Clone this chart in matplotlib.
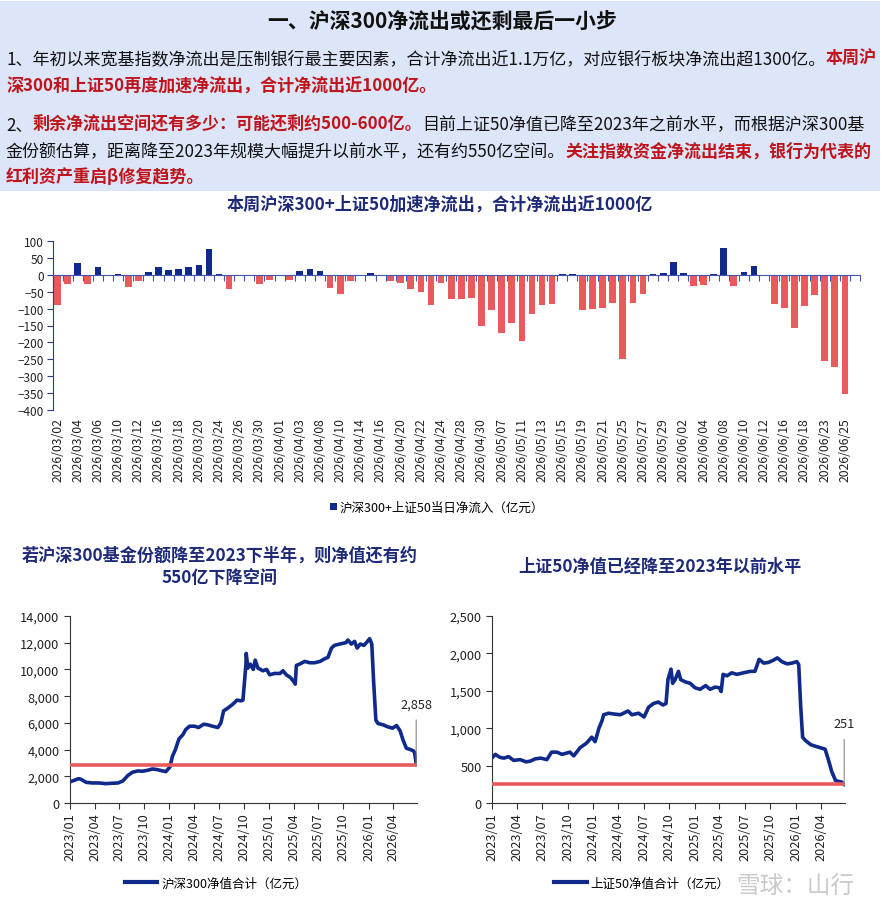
import numpy as np
import pandas as pd
import matplotlib
matplotlib.use("Agg")
import matplotlib.pyplot as plt
import matplotlib.dates as mdates
from matplotlib.patches import Rectangle, Patch
from matplotlib.lines import Line2D
from matplotlib.ticker import FuncFormatter

plt.rcParams['font.family'] = ['Noto Sans CJK SC', 'DejaVu Sans']

# ---- data ----
# daily net flow of 沪深300+上证50 ETFs (亿元), 2026/03/02 - 2026/06/25
flow_mar = ["03/02", "03/03", "03/04", "03/05", "03/06", "03/09", "03/10", "03/11", "03/12", "03/13",
            "03/16", "03/17", "03/18", "03/19", "03/20", "03/23", "03/24", "03/25", "03/26", "03/27",
            "03/30", "03/31"]
flow_apr = ["04/01", "04/02", "04/03", "04/07", "04/08", "04/09", "04/10", "04/13", "04/14", "04/15",
            "04/16", "04/17", "04/20", "04/21", "04/22", "04/23", "04/24", "04/27", "04/28", "04/29",
            "04/30"]
flow_may = ["05/06", "05/07", "05/08", "05/11", "05/12", "05/13", "05/14", "05/15", "05/18", "05/19",
            "05/20", "05/21", "05/22", "05/25", "05/26", "05/27", "05/28", "05/29"]
flow_jun = ["06/01", "06/02", "06/03", "06/04", "06/05", "06/08", "06/09", "06/10", "06/11", "06/12",
            "06/15", "06/16", "06/17", "06/18", "06/22", "06/23", "06/24", "06/25"]
flow_dates = ["2026/" + d for d in flow_mar + flow_apr + flow_may + flow_jun]
flow_vals = [-88, -28, 34, -28, 22, -5, 3, -37, -19, 7,
             22, 13, 16, 22, 28, 75, 3, -43, -4, -1,
             -26, -16, -2, -16, 12, 16, 12, -40, -58, -19,
             -3, 6, 0, -19, -25, -43, -52, -88, -25, -73,
             -73, -70, -150, -103, -172, -142, -196, -115, -88, -85,
             2, 2, -103, -100, -97, -82, -248, -82, -58, 2,
             6, 39, 6, -32, -29, 3, 78, -32, 9, 25,
             -1, -85, -97, -157, -91, -61, -256, -274, -352]

# 沪深300 net value total (亿元)
hs300_dates = ["2023-01-03", "2023-01-17", "2023-02-01", "2023-02-10", "2023-03-01", "2023-03-24", "2023-04-18", "2023-05-12", "2023-06-06", "2023-06-26",
               "2023-07-14", "2023-08-01", "2023-08-18", "2023-09-07", "2023-09-25", "2023-10-13", "2023-10-31", "2023-11-17", "2023-12-07", "2023-12-19",
               "2024-01-03", "2024-01-12", "2024-01-23", "2024-02-05", "2024-02-19", "2024-03-01", "2024-03-15", "2024-04-02", "2024-04-17", "2024-05-06",
               "2024-05-21", "2024-06-07", "2024-06-27", "2024-07-08", "2024-07-18", "2024-08-02", "2024-08-21", "2024-09-05", "2024-09-20", "2024-09-27",
               "2024-10-08", "2024-10-09", "2024-10-15", "2024-10-24", "2024-11-04", "2024-11-11", "2024-11-21", "2024-12-09", "2024-12-23", "2025-01-03",
               "2025-01-21", "2025-02-10", "2025-02-21", "2025-03-05", "2025-03-20", "2025-04-01", "2025-04-07", "2025-04-11", "2025-04-23", "2025-05-12",
               "2025-05-30", "2025-06-17", "2025-07-07", "2025-07-24", "2025-08-05", "2025-08-18", "2025-08-29", "2025-09-17", "2025-10-10", "2025-10-17",
               "2025-10-30", "2025-11-11", "2025-11-20", "2025-12-02", "2025-12-15", "2025-12-24", "2026-01-05", "2026-01-13", "2026-01-20", "2026-01-28",
               "2026-02-05", "2026-02-24", "2026-03-13", "2026-03-30", "2026-04-14", "2026-04-27", "2026-05-08", "2026-05-20", "2026-06-04", "2026-06-15",
               "2026-06-19", "2026-06-25"]
hs300_vals = [1600, 1700, 1820, 1780, 1550, 1500, 1500, 1450, 1480, 1500,
              1650, 2050, 2300, 2400, 2380, 2450, 2550, 2500, 2400, 2350,
              2700, 3500, 4000, 4800, 5100, 5500, 5750, 5750, 5650, 5900,
              5850, 5750, 5650, 6000, 6900, 7100, 7400, 7700, 7650, 7700,
              10400, 11200, 10100, 10400, 10000, 10700, 10100, 9900, 10000, 9600,
              9700, 9700, 9900, 9600, 9400, 9100, 8900, 10300, 10400, 10600,
              10500, 10500, 10600, 10800, 10900, 11600, 11800, 11900, 12000, 12200,
              11900, 12100, 11600, 11900, 11800, 12000, 12300, 11900, 9000, 6200,
              5950, 5850, 5700, 5600, 5800, 5400, 4700, 4100, 4000, 3900,
              3800, 2950]
hs300_floor = 2858

# 上证50 net value total (亿元)
sz50_dates = ["2023-01-03", "2023-01-13", "2023-01-30", "2023-02-13", "2023-03-02", "2023-03-20", "2023-04-13", "2023-05-04", "2023-05-19", "2023-06-06",
              "2023-06-26", "2023-07-18", "2023-08-04", "2023-08-23", "2023-09-11", "2023-10-09", "2023-10-23", "2023-11-15", "2023-12-08", "2023-12-27",
              "2024-01-08", "2024-01-22", "2024-02-02", "2024-02-08", "2024-02-26", "2024-03-15", "2024-04-08", "2024-05-06", "2024-05-20", "2024-06-13",
              "2024-07-03", "2024-07-19", "2024-08-06", "2024-08-23", "2024-09-09", "2024-09-20", "2024-09-27", "2024-10-08", "2024-10-14", "2024-10-23",
              "2024-11-04", "2024-11-12", "2024-11-28", "2024-12-16", "2025-01-03", "2025-01-21", "2025-02-10", "2025-02-26", "2025-03-17", "2025-04-01",
              "2025-04-07", "2025-04-14", "2025-04-28", "2025-05-15", "2025-06-03", "2025-06-26", "2025-07-21", "2025-08-07", "2025-08-22", "2025-09-08",
              "2025-09-25", "2025-10-13", "2025-10-27", "2025-11-12", "2025-12-01", "2025-12-18", "2026-01-05", "2026-01-12", "2026-01-19", "2026-01-26",
              "2026-02-04", "2026-02-24", "2026-03-12", "2026-03-30", "2026-04-17", "2026-04-29", "2026-05-11", "2026-05-25", "2026-06-04", "2026-06-16",
              "2026-06-25"]
sz50_vals = [610, 650, 610, 600, 620, 570, 580, 550, 560, 590,
             600, 580, 680, 680, 650, 680, 630, 740, 800, 880,
             820, 1000, 1100, 1180, 1200, 1190, 1180, 1230, 1180, 1200,
             1150, 1280, 1330, 1350, 1310, 1330, 1650, 1790, 1600, 1650,
             1760, 1650, 1620, 1600, 1540, 1520, 1570, 1520, 1550, 1540,
             1490, 1720, 1700, 1740, 1720, 1740, 1760, 1760, 1920, 1870,
             1880, 1910, 1940, 1890, 1860, 1870, 1890, 1850, 1300, 880,
             840, 780, 760, 740, 720, 580, 420, 300, 290, 280,
             250]
sz50_floor = 251

# ---- header text ----
head_title = "一、沪深300净流出或还剩最后一小步"
head_lines = [
    [("1、年初以来宽基指数净流出是压制银行最主要因素，合计净流出近1.1万亿，对应银行板块净流出超1300亿。", False), ("本周沪", True)],
    [("深300和上证50再度加速净流出，合计净流出近1000亿。", True)],
    [("2、", False), ("剩余净流出空间还有多少：可能还剩约500-600亿。", True), ("目前上证50净值已降至2023年之前水平，而根据沪深300基", False)],
    [("金份额估算，距离降至2023年规模大幅提升以前水平，还有约550亿空间。", False), ("关注指数资金净流出结束，银行为代表的", True)],
    [("红利资产重启β修复趋势。", True)],
]
head_y = [59, 87, 125, 152, 177]

BLUE = "#0F2A8A"
RED = "#E85A5C"
TITLE_NAVY = "#1E2A78"
DARK_RED = "#C0141C"
HEADER_BG = "#DCE6F8"

W, H = 885, 912
fig = plt.figure(figsize=(W / 100, H / 100), dpi=100)
renderer = fig.canvas.get_renderer()


def fx(px):
    return px / W


def fy(py):
    return 1 - py / H


fig.patches.append(Rectangle((0, fy(192)), fx(880), fy(2) - fy(192), transform=fig.transFigure,
                             facecolor=HEADER_BG, edgecolor="none", zorder=0))

fig.text(fx(442), fy(21), head_title, fontsize=15, fontweight="bold", ha="center", va="center", color="#111111")


def draw_runs(py, runs, size, draw=True):
    x = fx(6)
    texts = []
    for s, red in runs:
        t = fig.text(x, fy(py), s, fontsize=size, ha="left", va="center",
                     color=DARK_RED if red else "#111111", fontweight="bold" if red else "normal")
        x += t.get_window_extent(renderer).width / W
        texts.append(t)
    if not draw:
        for t in texts:
            t.remove()
    return x * W - 6


# fit body font so the first line spans the box
w12 = draw_runs(0, head_lines[0], 12, draw=False)
body_size = 12 * 871 / w12
for py, runs in zip(head_y, head_lines):
    draw_runs(py, runs, body_size)

# ---- bar chart ----
fig.text(fx(440), fy(205), "本周沪深300+上证50加速净流出，合计净流出近1000亿", fontsize=12.3,
         fontweight="bold", color=TITLE_NAVY, ha="center", va="center")

ax1 = fig.add_axes([fx(52.5), fy(411), fx(860) - fx(52.5), fy(242) - fy(411)])
xs = np.arange(len(flow_vals))
cols = [BLUE if v > 0 else RED for v in flow_vals]
bars = ax1.bar(xs, flow_vals, width=0.66, color=cols, zorder=2)
ax1.set_xlim(-0.5, 79.5)
ax1.set_ylim(-400, 100)
ax1.set_yticks(np.arange(-400, 101, 50))
ax1.tick_params(axis="y", direction="out", length=4, color="#2B3A86", labelsize=8.5, labelcolor="#222222", pad=2)
ax1.spines["left"].set_color("#2B3A86")
ax1.spines["top"].set_visible(False)
ax1.spines["right"].set_visible(False)
# zero line with category ticks
ax1.spines["bottom"].set_position(("data", 0))
ax1.spines["bottom"].set_color("#4454B0")
ax1.set_xticks(np.arange(-0.5, 80, 1))
ax1.set_xticklabels([])
ax1.tick_params(axis="x", direction="out", length=4, color="#4454B0")
# date labels under the plot
sec = ax1.secondary_xaxis("bottom")
sec.set_xticks(xs[::2], [flow_dates[i] for i in xs[::2]], rotation=90)
sec.tick_params(length=0, labelsize=8.8, labelcolor="#222222", pad=5)
sec.spines["bottom"].set_visible(False)

ax1.legend(handles=[Patch(facecolor=BLUE)], labels=["沪深300+上证50当日净流入（亿元）"], loc="center",
           bbox_to_anchor=(fx(437), fy(508)), bbox_transform=fig.transFigure, frameon=False,
           handlelength=0.5, handleheight=0.5, handletextpad=0.2, fontsize=9)


# ---- line charts ----
def line_panel(left, right, dates, vals, floor, ymax, ystep, title_lines, title_x, label, leg_x):
    ax = fig.add_axes([fx(left), fy(804), fx(right) - fx(left), fy(617) - fy(804)])
    d = pd.to_datetime(dates)
    ax.plot(d, vals, color=BLUE, lw=2.6, solid_joinstyle="round", zorder=2)
    ax.axhline(floor, color=RED, lw=2.6, zorder=3)
    ax.set_xlim(pd.Timestamp("2023-01-01"), pd.Timestamp("2026-06-28"))
    ax.set_ylim(0, ymax)
    ax.set_yticks(np.arange(0, ymax + 1, ystep))
    ax.yaxis.set_major_formatter(FuncFormatter(lambda v, p: f"{v:,.0f}"))
    ax.xaxis.set_major_locator(mdates.MonthLocator(bymonth=[1, 4, 7, 10]))
    ax.xaxis.set_major_formatter(mdates.DateFormatter("%Y/%m"))
    for lab in ax.get_xticklabels():
        lab.set_rotation(90)
    ax.tick_params(axis="both", direction="out", length=4, color="#333333", labelsize=9.2, labelcolor="#222222")
    ax.tick_params(axis="x", pad=3)
    for s in ["top", "right"]:
        ax.spines[s].set_visible(False)
    for s in ["left", "bottom"]:
        ax.spines[s].set_color("#333333")
    ax.annotate(f"{floor:,}", xy=(d[-1], floor), xytext=(0, 44), textcoords="offset points",
                ha="center", va="center", fontsize=9.2, color="#222222",
                arrowprops=dict(arrowstyle="-", color="#888888", lw=0.8, shrinkA=5, shrinkB=0))
    for i, t in enumerate(title_lines):
        fig.text(fx(title_x[0]), fy(title_x[1] + 22 * i), t, fontsize=12.3, fontweight="bold",
                 color=TITLE_NAVY, ha="center", va="center")
    ax.legend(handles=[Line2D([], [], color=BLUE, lw=3)], labels=[label], loc="center",
              bbox_to_anchor=(fx(leg_x), fy(884)), bbox_transform=fig.transFigure, frameon=False,
              handlelength=2.6, handletextpad=0.3, fontsize=9)
    return ax


line_panel(70, 417, hs300_dates, hs300_vals, hs300_floor, 14000, 2000,
           ["若沪深300基金份额降至2023下半年，则净值还有约", "550亿下降空间"], (220, 556),
           "沪深300净值合计（亿元）", 216)
line_panel(492, 845, sz50_dates, sz50_vals, sz50_floor, 2500, 500,
           ["上证50净值已经降至2023年以前水平"], (660, 567),
           "上证50净值合计（亿元）", 642)

# watermark
fig.text(fx(795), fy(886), "雪球：山行", fontsize=17, color="#BDBDBD", alpha=0.8, ha="center", va="center")

fig.savefig("out.png", dpi=100, facecolor="white")
